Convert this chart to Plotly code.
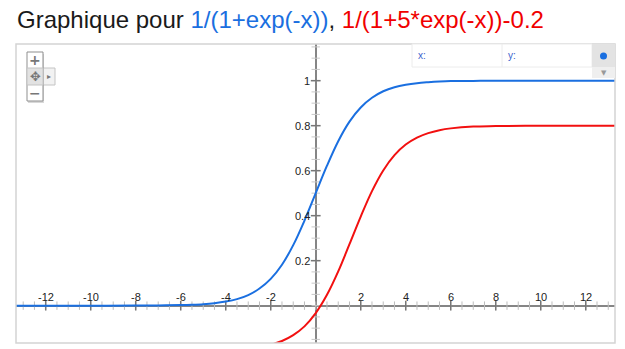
import numpy as np
import plotly.graph_objects as go

# ---- data ----
blue_x = [-14, -12, -10, -8, -7, -6, -5.5, -5, -4.5, -4, -3.5, -3, -2.5, -2, -1.5, -1, -0.5,
          0, 0.5, 1, 1.5, 2, 2.5, 3, 3.5, 4, 4.5, 5, 5.5, 6, 7, 8, 10, 12, 14]
blue_y = [0.0, 0.0, 0.0, 0.0003, 0.0009, 0.0025, 0.0041, 0.0067, 0.011, 0.018, 0.029, 0.047,
          0.076, 0.119, 0.182, 0.269, 0.378, 0.5, 0.622, 0.731, 0.818, 0.881, 0.924, 0.953,
          0.971, 0.982, 0.989, 0.993, 0.996, 0.998, 0.999, 1.0, 1.0, 1.0, 1.0]

red_x = [-2, -1.5, -1, -0.5, 0, 0.5, 1, 1.5, 2, 2.5, 3, 3.5, 4, 4.5, 5, 5.5, 6, 7, 8, 10, 12, 14]
red_y = [-0.174, -0.157, -0.131, -0.092, -0.033, 0.048, 0.152, 0.273, 0.396, 0.509, 0.601,
         0.669, 0.716, 0.747, 0.767, 0.780, 0.788, 0.796, 0.798, 0.800, 0.800, 0.800]

x_tick_labels = [-12, -10, -8, -6, -4, -2, 2, 4, 6, 8, 10, 12]
y_tick_labels = [0.2, 0.4, 0.6, 0.8, 1]

title_text = ("Graphique pour <span style='color:#1a6fe0'>1/(1+exp(-x))</span>, "
              "<span style='color:#f00000'>1/(1+5*exp(-x))-0.2</span>")

BLUE = "#1a6fe0"
RED = "#f21010"
AXIS = "#858585"

W, H = 625, 349
L, R, T, B = 16, 615, 44, 343  # plot area in pixels


def px(x):
    return (x - L) / (R - L)


def py(y):
    return (B - y) / (B - T)


x_minor = np.arange(-13, 13.01, 0.5)
y_minor = np.arange(-0.15, 1.151, 0.05)

fig = go.Figure()

# minor ticks on the axes
fig.add_trace(go.Scatter(x=x_minor, y=[0] * len(x_minor), mode="markers",
                         marker=dict(symbol="line-ns", size=6, line=dict(width=1, color="#bdbdbd")),
                         hoverinfo="skip", showlegend=False))
fig.add_trace(go.Scatter(x=[0] * len(y_minor), y=y_minor, mode="markers",
                         marker=dict(symbol="line-ew", size=6, line=dict(width=1, color="#c8c8c8")),
                         hoverinfo="skip", showlegend=False))
# major ticks
fig.add_trace(go.Scatter(x=x_tick_labels, y=[0] * len(x_tick_labels), mode="markers",
                         marker=dict(symbol="line-ns", size=7, line=dict(width=1.5, color="#777")),
                         hoverinfo="skip", showlegend=False))
fig.add_trace(go.Scatter(x=[0] * len(y_tick_labels), y=y_tick_labels, mode="markers",
                         marker=dict(symbol="line-ew", size=7, line=dict(width=1.5, color="#777")),
                         hoverinfo="skip", showlegend=False))

# curves
fig.add_trace(go.Scatter(x=red_x, y=red_y, mode="lines", line=dict(color=RED, width=2, shape="spline"),
                         hoverinfo="skip", showlegend=False))
fig.add_trace(go.Scatter(x=blue_x, y=blue_y, mode="lines", line=dict(color=BLUE, width=2, shape="spline"),
                         hoverinfo="skip", showlegend=False))

annotations = []
for v in x_tick_labels:
    annotations.append(dict(x=v, y=0, xref="x", yref="y", text=str(v), showarrow=False,
                            xanchor="center", yanchor="middle", yshift=9,
                            font=dict(family="Arial, Liberation Sans", size=11, color="#222")))
for v in y_tick_labels:
    annotations.append(dict(x=0, y=v, xref="x", yref="y", text=f"{v:g}", showarrow=False,
                            xanchor="right", yanchor="middle", xshift=-4,
                            font=dict(family="Arial, Liberation Sans", size=11, color="#222")))


def ptext(x, y, text, size, color="#777", family="DejaVu Sans", xanchor="center"):
    return dict(x=px(x), y=py(y), xref="paper", yref="paper", text=text, showarrow=False,
                xanchor=xanchor, yanchor="middle", font=dict(family=family, size=size, color=color))


annotations += [
    ptext(35, 60, "<b>+</b>", 14),
    ptext(35, 76.5, "✥", 13),
    ptext(35, 93, "<b>−</b>", 14),
    ptext(49, 76.5, "▸", 8, "#777"),
    ptext(416, 56, "x:", 10, "#3a5fcc", "Arial, Liberation Sans", "left"),
    ptext(506, 56, "y:", 10, "#3a5fcc", "Arial, Liberation Sans", "left"),
    ptext(603.5, 72.5, "▼", 7, "#999"),
]

shapes = [
    # plot frame
    dict(type="rect", xref="paper", yref="paper", x0=0, x1=1, y0=0, y1=1,
         line=dict(color="#d4d4d4", width=1.5), layer="above"),
    # coordinate readout box
    dict(type="rect", xref="paper", yref="paper", x0=px(412), x1=px(592), y0=py(67), y1=py(44),
         fillcolor="white", line=dict(color="#ececec", width=1), layer="above"),
    dict(type="line", xref="paper", yref="paper", x0=px(502), x1=px(502), y0=py(67), y1=py(44),
         line=dict(color="#ececec", width=1), layer="above"),
    dict(type="rect", xref="paper", yref="paper", x0=px(592), x1=px(615), y0=py(67), y1=py(44),
         fillcolor="#e3e3e3", line=dict(width=0), layer="above"),
    dict(type="rect", xref="paper", yref="paper", x0=px(592), x1=px(615), y0=py(78), y1=py(67),
         fillcolor="#efefef", line=dict(width=0), layer="above"),
    dict(type="circle", xref="paper", yref="paper", x0=px(600), x1=px(607), y0=py(59.5), y1=py(52.5),
         fillcolor="#1a6fe0", line=dict(width=0), layer="above"),
    # zoom control (shadow, side tab, box, middle cell)
    dict(type="rect", xref="paper", yref="paper", x0=px(28), x1=px(44), y0=py(103), y1=py(54),
         fillcolor="#d8d8d8", line=dict(width=0), layer="above"),
    dict(type="rect", xref="paper", yref="paper", x0=px(43), x1=px(55), y0=py(85), y1=py(68),
         fillcolor="#f2f2f2", line=dict(color="#c4c4c4", width=1), layer="above"),
    dict(type="rect", xref="paper", yref="paper", x0=px(27), x1=px(43), y0=py(101), y1=py(52),
         fillcolor="white", line=dict(color="#8f8f8f", width=1), layer="above"),
    dict(type="rect", xref="paper", yref="paper", x0=px(27), x1=px(43), y0=py(85), y1=py(68),
         fillcolor="#e2e2e2", line=dict(color="#c4c4c4", width=1), layer="above"),
]

fig.update_layout(
    width=W, height=H,
    margin=dict(l=L, r=W - R, t=T, b=H - B, pad=0),
    paper_bgcolor="white", plot_bgcolor="white",
    showlegend=False, hovermode=False,
    title=dict(text=title_text, x=17 / W, xanchor="left", xref="container",
               y=1 - 19.5 / H, yanchor="middle", yref="container",
               font=dict(family="Arial, Liberation Sans", size=24, color="#1a1a1a")),
    xaxis=dict(range=[-13.32, 13.30], showgrid=False, showticklabels=False, ticks="",
               zeroline=True, zerolinecolor=AXIS, zerolinewidth=2, fixedrange=True),
    yaxis=dict(range=[-0.166, 1.163], showgrid=False, showticklabels=False, ticks="",
               zeroline=True, zerolinecolor=AXIS, zerolinewidth=2, fixedrange=True),
    annotations=annotations,
    shapes=shapes,
)

fig.write_html("out.html", config={"displayModeBar": False})
